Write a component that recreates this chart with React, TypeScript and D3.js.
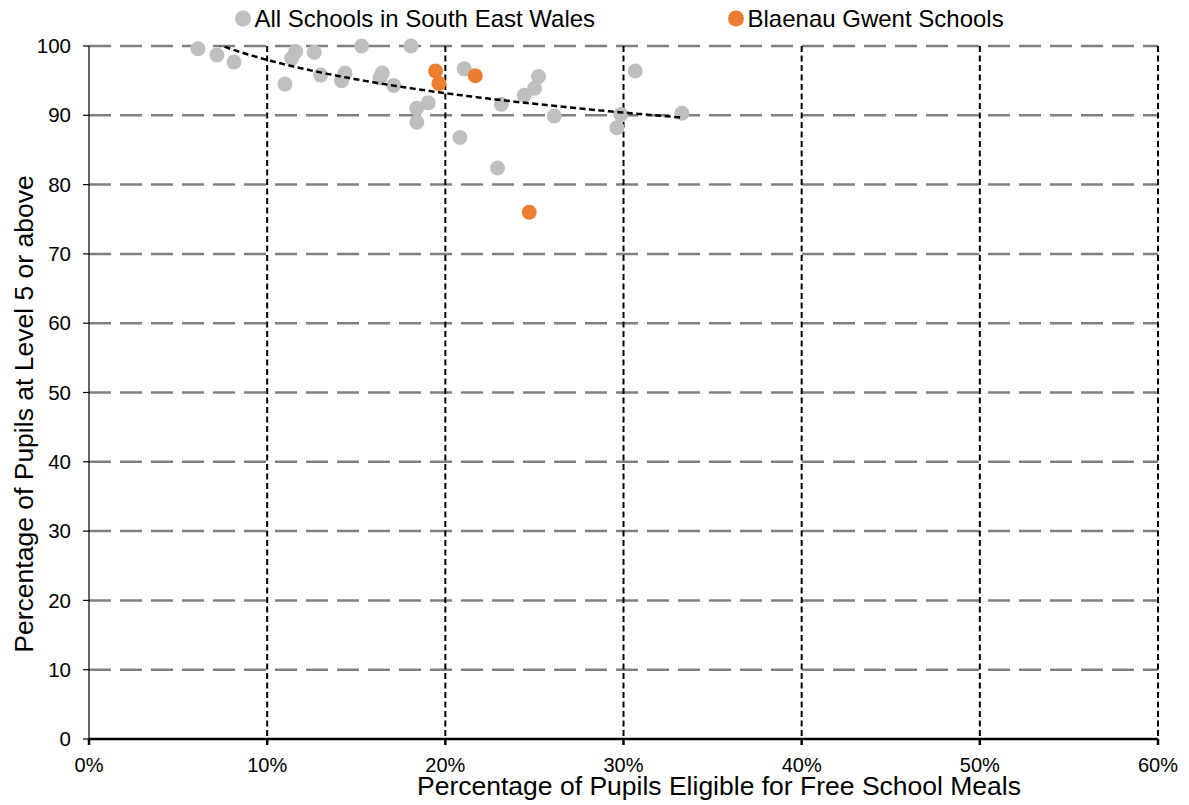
import React from "react";
import * as d3 from "d3";

// All Schools in South East Wales: [FSM %, Level 5+ %]
const allFsm = [6.12, 7.18, 8.14, 11.0, 11.37, 11.6, 12.64, 13.0, 14.18, 14.37, 15.3, 16.33, 16.46, 17.1, 18.07, 18.39, 18.4, 19.04, 20.82, 21.06, 22.93, 23.14, 24.43, 25.01, 25.23, 26.11, 29.63, 29.85, 30.66, 33.28];
const allL5 = [99.6, 98.7, 97.7, 94.5, 98.2, 99.2, 99.1, 95.8, 95.0, 96.1, 100.0, 95.4, 96.1, 94.3, 100.0, 91.0, 89.0, 91.8, 86.8, 96.7, 82.4, 91.6, 92.9, 93.9, 95.6, 89.9, 88.2, 90.1, 96.4, 90.3];

// Blaenau Gwent Schools
const bgFsm = [19.45, 19.64, 21.68, 24.71];
const bgL5 = [96.4, 94.6, 95.7, 76.0];

// Logarithmic trendline (y = intercept + slope * ln(x%))
const trendIntercept = 113.93;
const trendSlope = -6.92;

const xTicks = [0, 10, 20, 30, 40, 50, 60];
const yTicks = [0, 10, 20, 30, 40, 50, 60, 70, 80, 90, 100];

const legendItems = [
  { label: "All Schools in South East Wales", color: "#BFBFBF" },
  { label: "Blaenau Gwent Schools", color: "#ED7D31" },
];

const W = 1189;
const H = 805;
const left = 89;
const right = 1158;
const top = 46;
const bottom = 739;
const FONT = "'Liberation Sans', Arial, sans-serif";

export default function App() {
  const x = d3.scaleLinear().domain([0, 60]).range([left, right]);
  const y = d3.scaleLinear().domain([0, 100]).range([bottom, top]);

  const allPts = allFsm.map((v, i) => [v, allL5[i]]);
  const bgPts = bgFsm.map((v, i) => [v, bgL5[i]]);

  const xs = allFsm.concat(bgFsm);
  const tMin = d3.min(xs) as number;
  const tMax = d3.max(xs) as number;
  const trendPts = d3.range(0, 201).map((i) => {
    const xv = tMin + ((tMax - tMin) * i) / 200;
    return [xv, trendIntercept + trendSlope * Math.log(xv)];
  });
  const trendLine = d3
    .line<number[]>()
    .x((d) => x(d[0]))
    .y((d) => y(d[1]))(trendPts);

  const legendX = [243, 736];

  return (
    <svg
      width={W}
      height={H}
      style={{ position: "absolute", left: 0, top: 0, background: "#fff" }}
      fontFamily={FONT}
    >
      <defs>
        <clipPath id="plotClip">
          <rect x={left} y={top} width={right - left} height={bottom - top} />
        </clipPath>
      </defs>

      {/* horizontal gridlines */}
      {yTicks
        .filter((t) => t > 0)
        .map((t) => (
          <line
            key={"h" + t}
            x1={left}
            x2={right}
            y1={y(t)}
            y2={y(t)}
            stroke="#808080"
            strokeWidth={2.5}
            strokeDasharray="22 9"
          />
        ))}

      {/* vertical gridlines */}
      {xTicks
        .filter((t) => t > 0)
        .map((t) => (
          <line
            key={"v" + t}
            x1={x(t)}
            x2={x(t)}
            y1={top}
            y2={bottom}
            stroke="#000"
            strokeWidth={2}
            strokeDasharray="6 3.5"
          />
        ))}

      {/* y axis */}
      <line x1={left} x2={left} y1={top} y2={bottom} stroke="#000" strokeWidth={1.2} />
      {yTicks.map((t) => (
        <g key={"yt" + t}>
          <line x1={left - 6} x2={left} y1={y(t)} y2={y(t)} stroke="#000" strokeWidth={1.2} />
          <text x={71} y={y(t)} dy="0.35em" textAnchor="end" fontSize={20.5} fill="#000">
            {t}
          </text>
        </g>
      ))}

      {/* x axis */}
      <line x1={left} x2={right} y1={bottom} y2={bottom} stroke="#000" strokeWidth={2.5} />
      {xTicks.map((t) => (
        <g key={"xt" + t}>
          <line x1={x(t)} x2={x(t)} y1={bottom} y2={bottom + 6} stroke="#000" strokeWidth={2.5} />
          <text x={x(t)} y={772} textAnchor="middle" fontSize={20} fill="#000">
            {t}%
          </text>
        </g>
      ))}

      {/* points */}
      {allPts.map((d, i) => (
        <circle key={"a" + i} cx={x(d[0])} cy={y(d[1])} r={7.5} fill="#BFBFBF" />
      ))}
      {bgPts.map((d, i) => (
        <circle key={"b" + i} cx={x(d[0])} cy={y(d[1])} r={7.5} fill="#ED7D31" />
      ))}

      {/* trendline */}
      <path
        d={trendLine || ""}
        fill="none"
        stroke="#000"
        strokeWidth={2.5}
        strokeDasharray="6 3.5"
        clipPath="url(#plotClip)"
      />

      {/* axis titles */}
      <text x={719} y={795} textAnchor="middle" fontSize={26.5} fill="#000">
        Percentage of Pupils Eligible for Free School Meals
      </text>
      <text
        transform={`translate(33, ${414}) rotate(-90)`}
        textAnchor="middle"
        fontSize={26.5}
        fill="#000"
      >
        Percentage of Pupils at Level 5 or above
      </text>

      {/* legend */}
      {legendItems.map((item, i) => (
        <g key={"l" + i}>
          <circle cx={legendX[i]} cy={18.5} r={8} fill={item.color} />
          <text x={legendX[i] + 11.5} y={26.5} fontSize={24} fill="#000">
            {item.label}
          </text>
        </g>
      ))}
    </svg>
  );
}
